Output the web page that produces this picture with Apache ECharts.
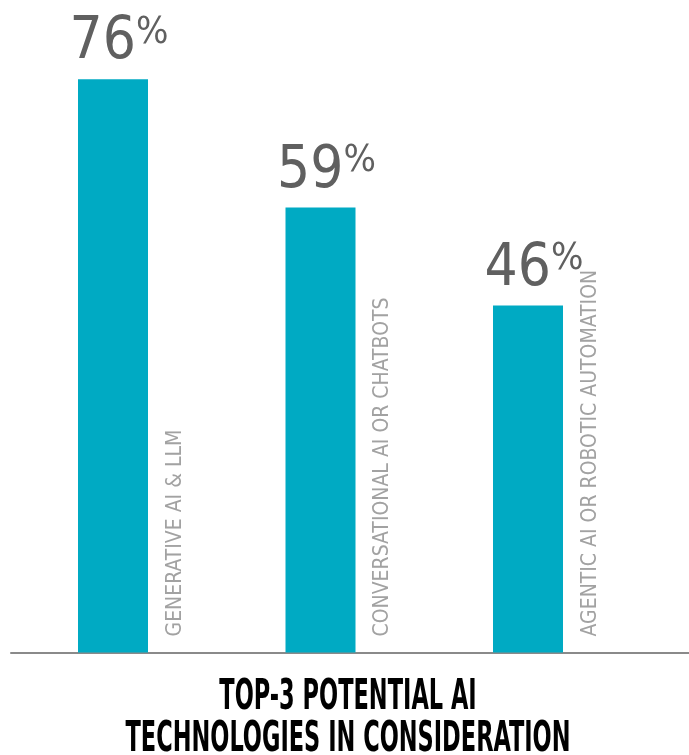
<!DOCTYPE html>
<html><head><meta charset="utf-8">
<script src="https://cdn.jsdelivr.net/npm/echarts@6/dist/echarts.min.js"></script>
<style>html,body{margin:0;padding:0;background:#fff}#c{width:689px;height:755px}</style>
</head><body><div id="c"></div>
<script>
const categories = ['GENERATIVE AI & LLM', 'CONVERSATIONAL AI OR CHATBOTS', 'AGENTIC AI OR ROBOTIC AUTOMATION'];
const values = [76, 59, 46];
const titleLines = ['TOP-3 POTENTIAL AI', 'TECHNOLOGIES IN CONSIDERATION'];

const NARROW = "'Liberation Sans Narrow','DejaVu Sans Condensed',sans-serif";
const chart = echarts.init(document.getElementById('c'), null, {renderer: 'canvas'});
chart.setOption({
  animation: false,
  grid: [
    {left: 9.25, width: 622.5, top: 3.8, bottom: 102.5},
    {left: 11, right: 0, top: 3.8, bottom: 102.5}
  ],
  xAxis: [
    {type: 'category', data: categories, gridIndex: 0, axisLine: {show: false}, axisTick: {show: false}, axisLabel: {show: false}},
    {type: 'category', data: [''], gridIndex: 1, axisLine: {show: true, lineStyle: {color: '#8a8a8a', width: 2}}, axisTick: {show: false}, axisLabel: {show: false}}
  ],
  yAxis: [
    {type: 'value', min: 0, max: 86, gridIndex: 0, show: false},
    {type: 'value', gridIndex: 1, show: false}
  ],
  series: [
    {
      type: 'bar', data: values, barWidth: 70, silent: true,
      itemStyle: {color: 'rgba(0,0,0,0)'},
      label: {
        show: true, formatter: p => p.name,
        position: ['100%', '100%'], rotate: 90, align: 'left', verticalAlign: 'top',
        offset: [16, 17],
        fontFamily: NARROW, fontSize: 21, color: '#a2a2a2'
      }
    },
    {
      type: 'bar', data: values, barWidth: 70, barGap: '-100%',
      itemStyle: {color: '#00aac3'},
      label: {
        show: true, position: 'top', distance: 7, offset: [6, 0],
        formatter: p => '{v|' + p.value + '}{p|%}',
        rich: {
          v: {fontFamily: NARROW, fontSize: 58, color: '#606060', lineHeight: 58},
          p: {fontFamily: NARROW, fontSize: 38, color: '#606060', verticalAlign: 'top', lineHeight: 38}
        }
      }
    }
  ],
  graphic: titleLines.map((t, i) => ({
    type: 'text', x: 348, y: 698 + i * 42, scaleX: 0.595,
    style: {text: t, fontFamily: NARROW, fontWeight: 'bold', fontSize: 42, fill: '#000', align: 'center', verticalAlign: 'middle'}
  }))
});
</script></body></html>
